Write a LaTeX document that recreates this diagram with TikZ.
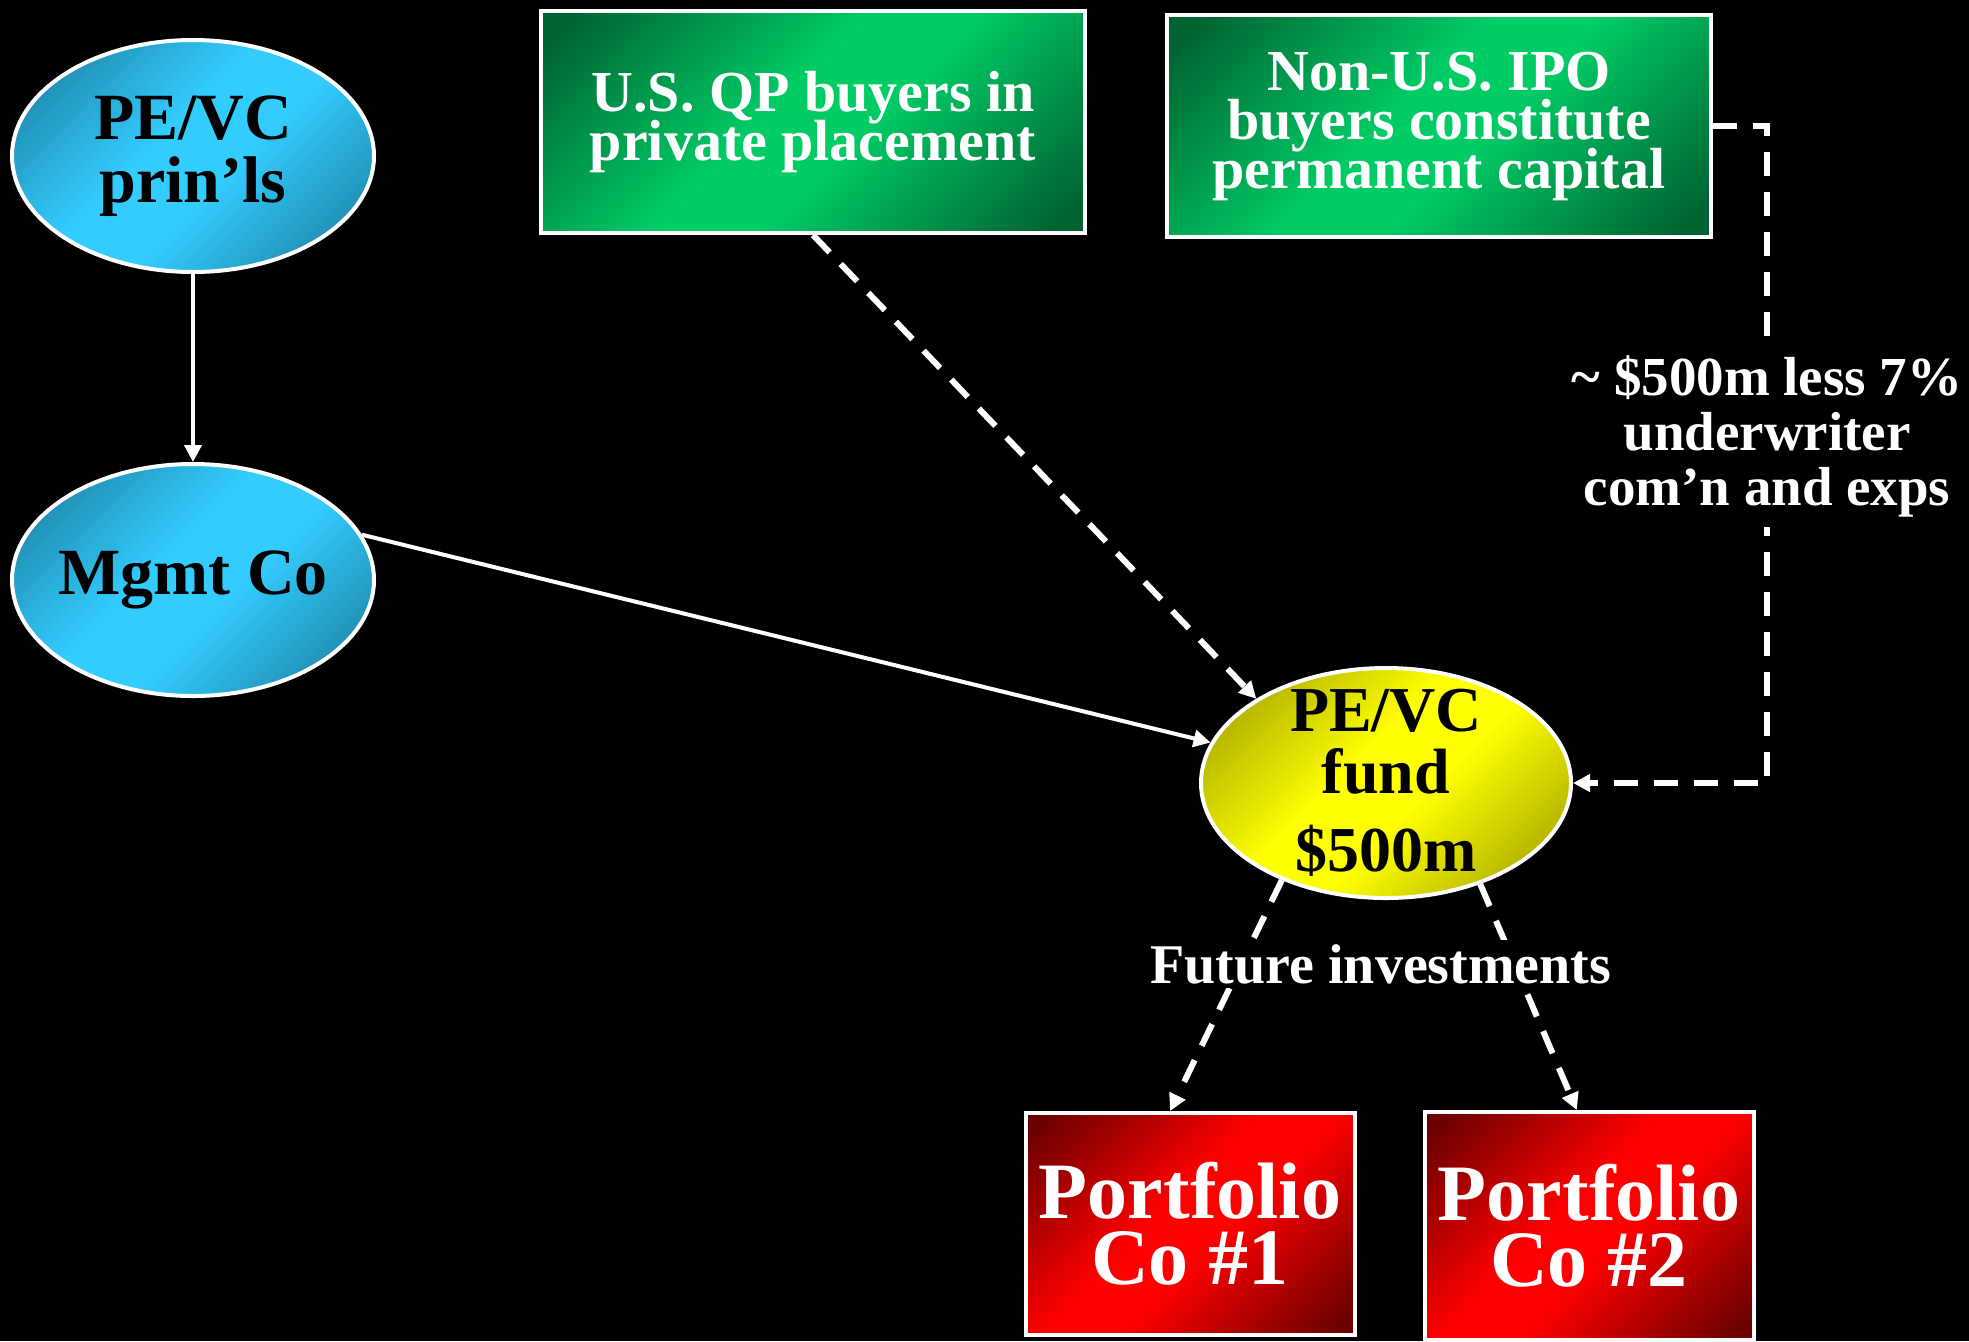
\documentclass[tikz,border=0pt]{standalone}
\usepackage{fontspec}
\setmainfont{Liberation Serif}
\usepackage{xcolor}
\usepackage{tikz}
\usetikzlibrary{arrows.meta, shapes.geometric, positioning}

\definecolor{skydark}{RGB}{28,128,160}
\definecolor{skylite}{RGB}{51,204,255}
\definecolor{leafdark}{RGB}{0,100,50}
\definecolor{leaflite}{RGB}{0,204,102}
\definecolor{sundark}{RGB}{160,160,0}
\definecolor{sunlite}{RGB}{255,255,0}
\definecolor{brickdark}{RGB}{110,0,0}
\definecolor{bricklite}{RGB}{255,0,0}
\setlength{\lineskiplimit}{-100pt}

\pgfdeclarehorizontalshading{skybar}{100bp}{color(0bp)=(skydark); color(18bp)=(skydark);
  color(44bp)=(skylite); color(56bp)=(skylite); color(82bp)=(skydark); color(100bp)=(skydark)}
\pgfdeclarehorizontalshading{leafbar}{100bp}{color(0bp)=(leafdark); color(18bp)=(leafdark);
  color(45bp)=(leaflite); color(55bp)=(leaflite); color(82bp)=(leafdark); color(100bp)=(leafdark)}
\pgfdeclarehorizontalshading{sunbar}{100bp}{color(0bp)=(sundark); color(18bp)=(sundark);
  color(44bp)=(sunlite); color(56bp)=(sunlite); color(82bp)=(sundark); color(100bp)=(sundark)}
\pgfdeclarehorizontalshading{brickbar}{100bp}{color(0bp)=(brickdark); color(18bp)=(brickdark);
  color(45bp)=(bricklite); color(55bp)=(bricklite); color(82bp)=(brickdark); color(100bp)=(brickdark)}

\begin{document}
\begin{tikzpicture}[
    x=0.5pt, y=-0.5pt,
    every node/.style={align=center, inner sep=0pt},
    outline/.style={draw=white, line width=2pt},
    skyoval/.style={ellipse, outline, minimum width=181pt, minimum height=116pt,
                    shading=skybar, shading angle=-45, text=black,
                    font=\bfseries\fontsize{33}{31.5}\selectfont},
    sunoval/.style={ellipse, outline, minimum width=185pt, minimum height=115pt,
                    shading=sunbar, shading angle=-45, text=black,
                    font=\bfseries\fontsize{32}{31}\selectfont},
    leafbox/.style={rectangle, outline, minimum width=272pt, minimum height=111pt,
                    shading=leafbar, shading angle=-45, text=white,
                    font=\bfseries\fontsize{29}{24.5}\selectfont},
    brickbox/.style={rectangle, outline, minimum width=164.5pt, minimum height=111pt,
                     shading=brickbar, shading angle=-45, text=white,
                     font=\bfseries\fontsize{40}{33}\selectfont},
    flow/.style={draw=white, line width=2pt, -{Triangle[length=8.5pt, width=8.5pt]}},
    dflow/.style={flow, line width=3pt, dash pattern=on 12pt off 8pt},
    lbl/.style={fill=black, text=white, font=\bfseries\fontsize{28}{27.5}\selectfont}
  ]
  \path[use as bounding box, fill=black] (0,0) rectangle (1969,1341);

  \node[skyoval] (prinls) at (193,156) {PE/VC\\prin’ls};
  \node[skyoval, inner sep=-4pt] (mgmt) at (193,580) {Mgmt Co};
  \node[leafbox] (qp) at (813,122) {U.S. QP buyers in\\private placement};
  \node[leafbox] (ipo) at (1439,126) {Non-U.S. IPO\\buyers constitute\\permanent capital};
  \node[sunoval, inner ysep=-7pt] (fund) at (1386,783) {PE/VC\\fund\\[8pt]\$500m};
  \node[brickbox] (pco1) at (1190,1224) {Portfolio\\Co \#1};
  \node[brickbox, minimum height=114pt] (pco2) at (1589,1226) {Portfolio\\Co \#2};
  \coordinate (bend) at (1767,126);

  \draw[flow] (prinls.south) -- (mgmt.north);
  \draw[flow] (mgmt.15) -- (fund.167);
  \draw[dflow] (qp.south) -- (fund.147);
  \draw[dflow] (ipo.east) -- (bend) |-
    node[lbl, inner sep=5pt, pos=0.236, font=\bfseries\fontsize{27.5}{27.5}\selectfont]
      (cost) {\textasciitilde\ \$500m less 7\%\\underwriter\\com’n and exps}
    (fund.east);
  \draw[dflow] (fund.223) -- (pco1.100);
  \draw[dflow] (fund.313) -- (pco2.96);

  \node[lbl, inner sep=2pt] (futinv) at (1381,964) {Future investments};
\end{tikzpicture}
\end{document}
